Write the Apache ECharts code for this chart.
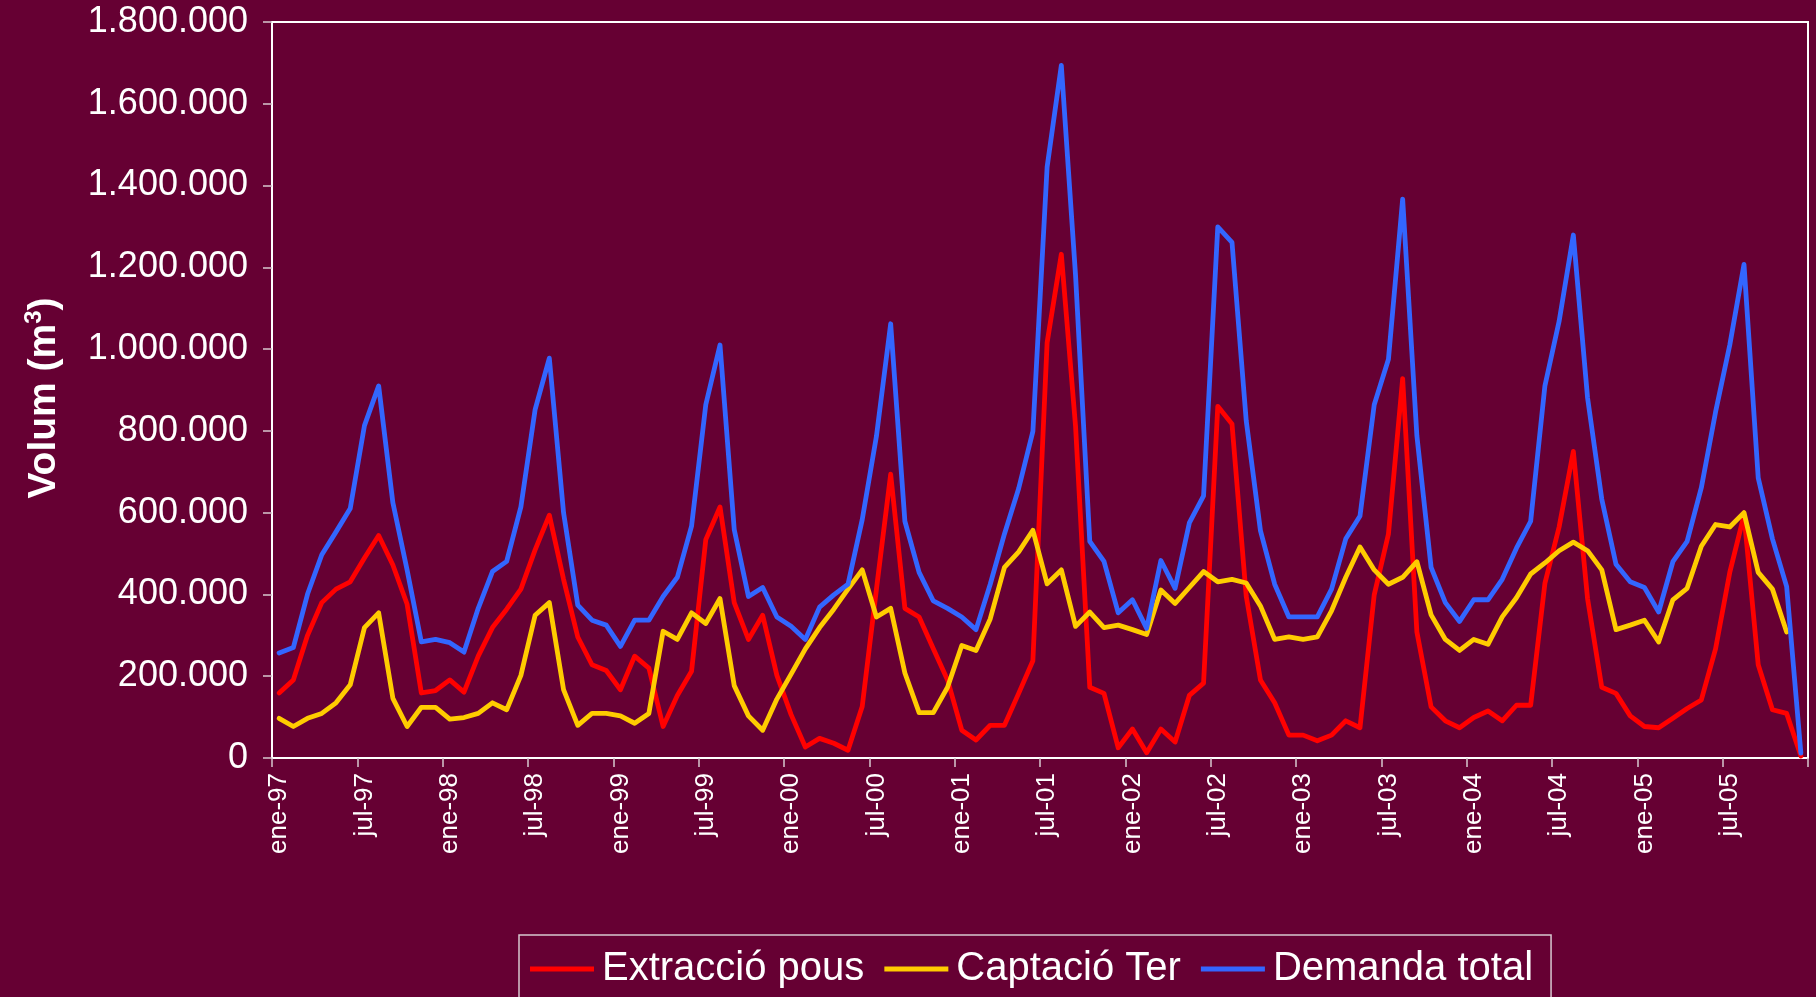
<!DOCTYPE html>
<html>
<head>
<meta charset="utf-8">
<script src="https://cdn.jsdelivr.net/npm/echarts@6/dist/echarts.min.js"></script>
<style>
  html, body { margin: 0; padding: 0; background: #660033; }
  #chart { width: 1816px; height: 997px; }
</style>
</head>
<body>
<div id="chart"></div>
<script>
// Month names (Spanish abbreviations) and years for the category axis
const monthNames = ['ene','feb','mar','abr','may','jun','jul','ago','sep','oct','nov','dic'];
const years = ['97','98','99','00','01','02','03','04','05'];

// Extracció pous (m3), ene-97 .. dic-05
const extraccioPous = [
  159000,191000,300000,380000,413000,431000,489000,544000,472000,376000,159000,165000,
  191000,161000,249000,319000,364000,413000,509000,594000,437000,296000,228000,214000,
  167000,249000,220000,77000,153000,212000,534000,614000,380000,290000,349000,202000,
  106000,27000,48000,36000,19000,126000,413000,694000,366000,345000,267000,191000,
  68000,44000,80000,80000,158000,238000,1016000,1232000,811000,173000,158000,25000,
  71000,13000,71000,39000,153000,183000,860000,817000,396000,191000,135000,56000,
  56000,42000,56000,91000,74000,399000,548000,928000,308000,125000,91000,74000,
  99000,115000,91000,129000,129000,427000,565000,750000,390000,173000,158000,103000,
  77000,74000,97000,121000,142000,267000,454000,594000,228000,118000,109000,5000
];

// Captació Ter (m3)
const captacioTer = [
  97000,77000,97000,109000,135000,179000,319000,355000,146000,77000,124000,124000,
  95000,99000,109000,135000,118000,202000,349000,380000,167000,80000,109000,109000,
  103000,85000,109000,310000,290000,355000,329000,390000,177000,103000,68000,144000,
  205000,267000,319000,364000,413000,460000,345000,366000,208000,111000,111000,173000,
  275000,263000,340000,466000,504000,557000,426000,460000,322000,357000,319000,325000,
  314000,302000,411000,378000,417000,456000,431000,437000,428000,372000,290000,296000,
  290000,296000,360000,442000,516000,460000,425000,442000,480000,350000,290000,263000,
  290000,278000,345000,392000,450000,477000,507000,528000,507000,460000,314000,325000,
  337000,284000,387000,415000,518000,571000,565000,600000,454000,413000,308000,null
];

// Demanda total (m3)
const demandaTotal = [
  257000,270000,401000,497000,553000,610000,813000,910000,624000,460000,284000,290000,
  282000,259000,366000,456000,481000,614000,852000,978000,600000,374000,337000,325000,
  273000,337000,337000,395000,442000,567000,864000,1010000,559000,395000,417000,345000,
  322000,290000,369000,399000,425000,583000,787000,1062000,579000,454000,384000,366000,
  345000,314000,425000,548000,659000,799000,1445000,1694000,1180000,530000,481000,355000,
  387000,317000,483000,415000,575000,641000,1299000,1261000,825000,556000,425000,345000,
  345000,345000,413000,536000,592000,864000,975000,1367000,788000,466000,380000,334000,
  387000,387000,437000,513000,579000,910000,1068000,1279000,881000,633000,474000,431000,
  417000,357000,480000,530000,661000,846000,1010000,1207000,685000,536000,419000,12000
];

const seriesNames = ['Extracció pous', 'Captació Ter', 'Demanda total'];
const seriesColors = ['#FF0000', '#FFCC00', '#3366FF'];

// Category labels built from month names and years
const categories = [];
years.forEach(y => monthNames.forEach(m => categories.push(m + '-' + y)));

function fmtThousands(v) {
  return String(Math.round(v)).replace(/\B(?=(\d{3})+(?!\d))/g, '.');
}

const chart = echarts.init(document.getElementById('chart'), null, { renderer: 'canvas' });
const FONT = 'Liberation Sans, Arial, sans-serif';

const seriesData = [extraccioPous, captacioTer, demandaTotal];

chart.setOption({
  backgroundColor: '#660033',
  animation: false,
  grid: {
    left: 272, right: 8, top: 22, bottom: 239,
    show: true, borderColor: '#ffffff', borderWidth: 2, backgroundColor: 'transparent'
  },
  legend: {
    left: 519, top: 935,
    orient: 'horizontal',
    icon: 'rect',
    itemWidth: 64, itemHeight: 5, itemGap: 20,
    padding: [14, 18, 14, 11],
    borderColor: '#d8c8d0', borderWidth: 1.5,
    textStyle: { color: '#ffffff', fontSize: 40, fontFamily: FONT, padding: [0, 0, 0, 3] },
    data: seriesNames
  },
  xAxis: {
    type: 'category',
    data: categories,
    boundaryGap: true,
    axisLine: { show: true, lineStyle: { color: '#ffffff', width: 2 } },
    axisTick: { show: true, interval: 5, length: 9, lineStyle: { color: '#d8c8d0', width: 1.5 } },
    axisLabel: { interval: 5, rotate: 90, color: '#ffffff', fontSize: 26, fontFamily: FONT, margin: 15 },
    splitLine: { show: false }
  },
  yAxis: {
    type: 'value',
    min: 0, max: 1800000, interval: 200000,
    name: 'Volum (m{sup|3})',
    nameLocation: 'middle',
    nameGap: 206,
    nameTextStyle: {
      color: '#ffffff', fontSize: 39, fontWeight: 'bold', fontFamily: FONT,
      padding: [0, 16, 0, 0],
      rich: {
        sup: { color: '#ffffff', fontSize: 24, fontWeight: 'bold', fontFamily: FONT, verticalAlign: 'top', lineHeight: 44 }
      }
    },
    axisLine: { show: true, lineStyle: { color: '#ffffff', width: 2 } },
    axisTick: { show: true, length: 9, lineStyle: { color: '#d8c8d0', width: 1.5 } },
    axisLabel: { color: '#ffffff', fontSize: 36, fontFamily: FONT, margin: 24, formatter: fmtThousands },
    splitLine: { show: false }
  },
  series: seriesNames.map((name, i) => ({
    name: name,
    type: 'line',
    data: seriesData[i],
    symbol: 'none',
    showSymbol: false,
    connectNulls: false,
    itemStyle: { color: seriesColors[i] },
    lineStyle: { color: seriesColors[i], width: 4.8, join: 'round', cap: 'round' },
    emphasis: { disabled: true }
  }))
});
</script>
</body>
</html>
